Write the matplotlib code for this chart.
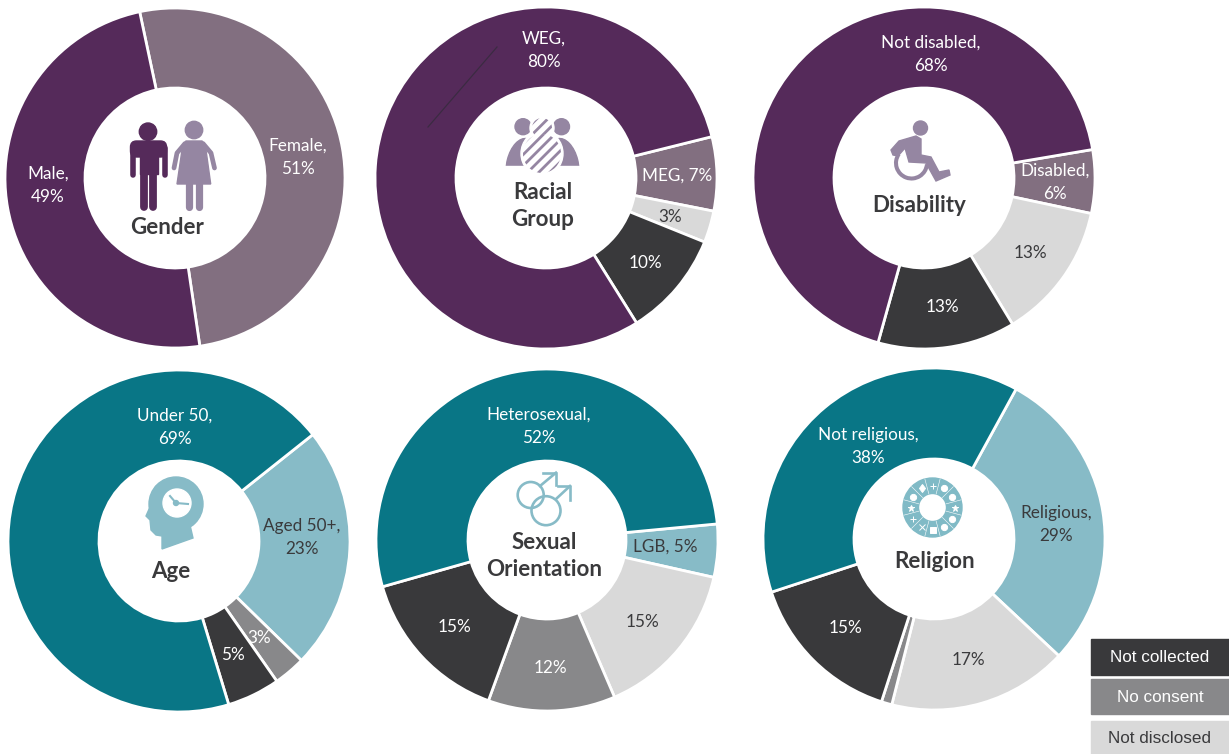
import numpy as np
import matplotlib
matplotlib.use('Agg')
import matplotlib.pyplot as plt
import matplotlib.patches as mpatches

plt.rcParams['font.family'] = ['Lato', 'DejaVu Sans']
plt.rcParams['hatch.linewidth'] = 2.0

W, H = 1229, 754

PURPLE = '#552A5A'
MAUVE = '#826F80'
TEAL = '#097686'
LTEAL = '#87BBC7'
DARK = '#39393B'
GREY = '#88888A'
LGREY = '#D9D9D9'
ICON_PURPLE = '#9586A2'
TEXT = '#3A3A3C'

# values, clockwise from the start angle
gender_values = [51, 49]
gender_labels = ['Female,\n51%', 'Male,\n49%']
racial_values = [7, 3, 10, 80]
racial_labels = ['MEG, 7%', '3%', '10%', 'WEG,\n80%']
disability_values = [6, 13, 13, 68]
disability_labels = ['Disabled,\n6%', '13%', '13%', 'Not disabled,\n68%']
age_values = [23, 3, 5, 69]
age_labels = ['Aged 50+,\n23%', '3%', '5%', 'Under 50,\n69%']
sexual_values = [5, 15, 12, 15, 52.8]
sexual_labels = ['LGB, 5%', '15%', '12%', '15%', 'Heterosexual,\n52%']
religion_values = [29, 17, 1, 15, 38]
religion_labels = ['Religious,\n29%', '17%', None, '15%', 'Not religious,\n38%']
legend_labels = ['Not collected', 'No consent', 'Not disclosed']


def donut(cx, cy, r, hole, start, values, colors):
    ax = fig.add_axes([(cx - r) / W, 1 - (cy + r) / H, 2 * r / W, 2 * r / H])
    ax.pie(values, colors=colors, startangle=90 - start, counterclock=False, radius=1,
           wedgeprops=dict(width=1 - hole / r, edgecolor='white', linewidth=2, clip_on=False))
    ax.set_xlim(-1, 1)
    ax.set_ylim(-1, 1)
    ax.axis('off')


def put_labels(labels, spots, colors):
    for lab, spot, c in zip(labels, spots, colors):
        if lab is None:
            continue
        dy = 2.5 if '\n' in lab else 1
        top.text(spot[0], spot[1] + dy, lab, color=c, fontsize=12.3, ha='center', va='center',
                 linespacing=1.54)


def title(x, y, s):
    top.text(x, y + 2, s, color=TEXT, fontsize=16.1, fontweight='bold', ha='center', va='center',
             linespacing=1.37)


fig = plt.figure(figsize=(W / 100, H / 100), dpi=100)

donut(175, 178, 170, 90, -12, gender_values, [MAUVE, PURPLE])
donut(546, 178, 171, 90, 76, racial_values, [MAUVE, LGREY, DARK, PURPLE])
donut(924, 178, 171, 90, 80.4, disability_values, [MAUVE, LGREY, DARK, PURPLE])
donut(179, 541, 171, 80, 51.5, age_values, [LTEAL, GREY, DARK, TEAL])
donut(547, 540, 171, 79, 84.6, sexual_values, [LTEAL, LGREY, GREY, DARK, TEAL])
donut(934, 539, 171, 80, 28.7, religion_values, [LTEAL, LGREY, GREY, DARK, TEAL])

# overlay in pixel coordinates for text, icons and the legend
top = fig.add_axes([0, 0, 1, 1])
top.set_xlim(0, W)
top.set_ylim(H, 0)
top.axis('off')
top.patch.set_alpha(0)

put_labels(gender_labels, [(298, 155), (48, 183)], ['white', 'white'])
put_labels(racial_labels, [(677, 175), (670, 216), (645, 262), (544, 48)],
           ['white', TEXT, 'white', 'white'])
put_labels(disability_labels, [(1055, 180), (1030, 252), (942, 306), (931, 52)],
           ['white', TEXT, 'white', 'white'])
put_labels(age_labels, [(302, 535), (259, 637), (233, 654), (175, 425)],
           [TEXT, 'white', 'white', 'white'])
put_labels(sexual_labels, [(665, 546), (642, 621), (550, 667), (454, 626), (539, 424)],
           [TEXT, TEXT, 'white', 'white', 'white'])
put_labels(religion_labels, [(1056, 522), (968, 659), None, (845, 627), (868, 444)],
           [TEXT, TEXT, None, 'white', 'white'])

title(167, 225, 'Gender')
title(543, 204, 'Racial\nGroup')
title(919, 204, 'Disability')
title(171, 569, 'Age')
title(544, 554, 'Sexual\nOrientation')
title(935, 559, 'Religion')

# leader line left in the WEG slice
top.plot([428, 497], [127, 47], color='#3B2A42', lw=0.9)

# gender icon - man
top.add_patch(mpatches.Circle((148, 131.7), 8.7, color=PURPLE))
top.add_patch(mpatches.FancyBboxPatch((130.5, 141), 36, 16, boxstyle='round,pad=0,rounding_size=6', color=PURPLE))
top.add_patch(mpatches.Rectangle((140, 150), 17.5, 24, color=PURPLE))
top.plot([132.8, 132.8], [148, 174.5], color=PURPLE, lw=4, solid_capstyle='round')
top.plot([164.8, 164.8], [148, 174.5], color=PURPLE, lw=4, solid_capstyle='round')
top.plot([144, 144], [172, 206.5], color=PURPLE, lw=5.6, solid_capstyle='round')
top.plot([153.4, 153.4], [172, 206.5], color=PURPLE, lw=5.6, solid_capstyle='round')

# gender icon - woman
top.add_patch(mpatches.Circle((194, 130), 8.7, color=ICON_PURPLE))
top.add_patch(mpatches.Polygon([(186, 141), (202, 141), (206, 150), (210.7, 184), (177, 184), (182, 150)], color=ICON_PURPLE))
top.plot([185, 177, 174], [143.5, 153, 168], color=ICON_PURPLE, lw=3.4, solid_capstyle='round')
top.plot([203, 211, 214.5], [143.5, 153, 168], color=ICON_PURPLE, lw=3.4, solid_capstyle='round')
top.plot([189, 189], [183, 207], color=ICON_PURPLE, lw=5.2, solid_capstyle='round')
top.plot([199, 199], [183, 207], color=ICON_PURPLE, lw=5.2, solid_capstyle='round')

# racial group icon
for x in (523, 561.5):
    top.add_patch(mpatches.Circle((x, 126.7), 8, color=ICON_PURPLE))
top.add_patch(mpatches.Ellipse((521, 163), 28, 50, angle=14, color=ICON_PURPLE))
top.add_patch(mpatches.Ellipse((564, 163), 28, 50, angle=-14, color=ICON_PURPLE))
top.add_patch(mpatches.Rectangle((503, 165.5), 80, 28, color='white', zorder=2.1))
top.add_patch(mpatches.Circle((542, 128), 12, color='white', zorder=2.2))
top.add_patch(mpatches.Circle((542, 128), 10, facecolor='white', edgecolor=ICON_PURPLE, hatch='///', lw=0, zorder=2.3))
top.add_patch(mpatches.Ellipse((542, 153.5), 42, 45, color='white', zorder=2.2))
top.add_patch(mpatches.Ellipse((542, 153.5), 38, 39, facecolor='white', edgecolor=ICON_PURPLE, hatch='///', lw=0, zorder=2.3))

# wheelchair icon
top.add_patch(mpatches.Circle((920.5, 128), 7, color=ICON_PURPLE))
top.add_patch(mpatches.Arc((911.5, 163), 31, 31, theta1=5, theta2=215, color=ICON_PURPLE, lw=2.9))
top.add_patch(mpatches.Polygon([(891, 150), (893, 155), (898, 156), (905, 148), (909, 162), (926, 163),
                                (936, 181), (950, 175), (949, 170), (939, 172), (931, 157), (921, 155),
                                (921, 139), (916, 136), (899, 141)], color=ICON_PURPLE, zorder=2.4))

# age icon
top.add_patch(mpatches.Circle((176, 504), 27, color=LTEAL))
top.add_patch(mpatches.Polygon([(156, 486), (151, 497), (150, 507), (146, 516), (150, 520), (151, 530),
                                (156, 535), (162, 536), (162, 549), (193, 538), (190, 525), (176, 504)],
                               color=LTEAL))
top.add_patch(mpatches.Circle((177, 503), 14, color='white'))
top.plot([170, 176, 188], [496, 503, 504], color=LTEAL, lw=1.5)
top.add_patch(mpatches.Circle((176, 503), 2.5, color=LTEAL))

# sexual orientation icon
for (x, y, r) in [(530.7, 495, 13), (546, 510.7, 14.5)]:
    top.add_patch(mpatches.Circle((x, y), r, fill=False, edgecolor=LTEAL, lw=1.9))
top.plot([540, 556], [486, 472.7], color=LTEAL, lw=1.9)
top.plot([543, 556, 556], [472.7, 472.7, 485], color=LTEAL, lw=1.9)
top.plot([556, 570], [499, 486], color=LTEAL, lw=1.9)
top.plot([558, 570, 570], [486, 486, 500], color=LTEAL, lw=1.9)

# religion icon, ring of twelve symbols
top.add_patch(mpatches.Wedge((932.5, 507.5), 29.5, 0, 360, width=15.5, color='#80BAC6'))
marks = ['+', 'o', 'o', '*', 'o', 'o', 's', 'x', '+', '*', 'o', 'd']
for i, m in enumerate(marks):
    a = np.radians(15 + 30 * i)
    top.plot([932.5 + 14 * np.sin(a), 932.5 + 29.5 * np.sin(a)],
             [507.5 - 14 * np.cos(a), 507.5 - 29.5 * np.cos(a)], color='white', lw=0.4)
    a2 = np.radians(30 * i)
    top.plot(932.5 + 22 * np.sin(a2), 507.5 - 22 * np.cos(a2), marker=m, color='white', ms=4.5, mew=0.7, ls='none')

# legend boxes
boxes = [(639, 36, DARK, 'white'), (679, 35, GREY, 'white'), (721, 33, LGREY, TEXT)]
for lab, (y, h, c, tc) in zip(legend_labels, boxes):
    top.add_patch(mpatches.Rectangle((1091, y), 138, h, color=c))
    top.text(1160, y + h / 2 + 1, lab, color=tc, fontsize=12.3, ha='center', va='center',
             family='Liberation Sans')

plt.savefig('out.png', dpi=100)
